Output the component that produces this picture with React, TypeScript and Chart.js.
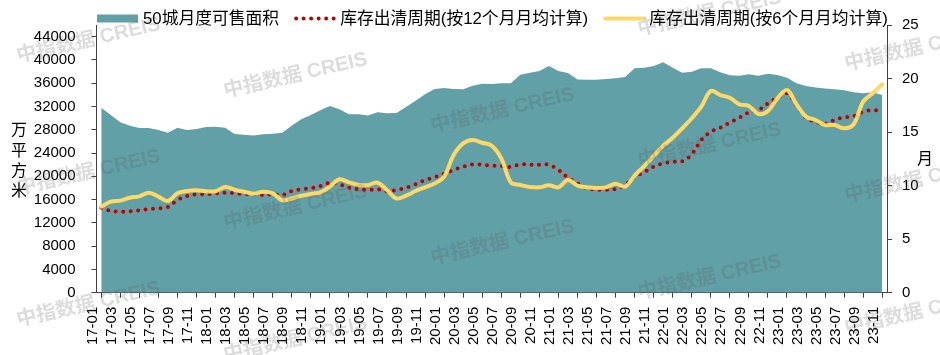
import React, { useEffect, useRef } from 'react';
import { Chart, registerables } from 'chart.js';

Chart.register(...registerables);

const CATEGORIES = [
  '17-01', '17-02', '17-03', '17-04', '17-05', '17-06', '17-07', '17-08', '17-09', '17-10', '17-11', '17-12',
  '18-01', '18-02', '18-03', '18-04', '18-05', '18-06', '18-07', '18-08', '18-09', '18-10', '18-11', '18-12',
  '19-01', '19-02', '19-03', '19-04', '19-05', '19-06', '19-07', '19-08', '19-09', '19-10', '19-11', '19-12',
  '20-01', '20-02', '20-03', '20-04', '20-05', '20-06', '20-07', '20-08', '20-09', '20-10', '20-11', '20-12',
  '21-01', '21-02', '21-03', '21-04', '21-05', '21-06', '21-07', '21-08', '21-09', '21-10', '21-11', '21-12',
  '22-01', '22-02', '22-03', '22-04', '22-05', '22-06', '22-07', '22-08', '22-09', '22-10', '22-11', '22-12',
  '23-01', '23-02', '23-03', '23-04', '23-05', '23-06', '23-07', '23-08', '23-09', '23-10', '23-11',
];

const AREA_LABEL = '50城月度可售面积';
const AREA_VALUES = [
  31780, 30530, 29270, 28690, 28300, 28300, 27950, 27490, 28350, 27950, 28120, 28470,
  28500, 28350, 27260, 27150, 27000, 27210, 27320, 27490, 28700, 29790, 30530, 31330,
  32080, 31510, 30650, 30650, 30470, 30990, 30820, 30900, 31900, 33000, 34080, 35000,
  35170, 35000, 34940, 35560, 35900, 35850, 36000, 36000, 37450, 37800, 38100, 38950,
  38100, 37750, 36650, 36600, 36600, 36710, 36830, 37060, 38550, 38660, 38950, 39580,
  38660, 37800, 37970, 38550, 38550, 37860, 37350, 37280, 37520, 37280, 37630, 37400,
  36940, 35970, 35510, 35280, 35110, 34940, 34770, 34430, 34260, 34430, 33970,
];

const CYCLE12_LABEL = '库存出清周期(按12个月月均计算)';
const CYCLE12_VALUES = [
  7.94, 7.63, 7.56, 7.6, 7.69, 7.82, 7.88, 8.0, 8.66, 9.03, 9.19, 9.2,
  9.28, 9.34, 9.28, 9.2, 9.19, 9.12, 9.19, 9.12, 9.5, 9.66, 9.75, 9.96,
  10.27, 10.12, 9.81, 9.66, 9.59, 9.66, 9.5, 9.59, 9.81, 10.12, 10.52, 10.8,
  11.11, 11.46, 11.77, 11.99, 11.95, 11.86, 11.83, 11.74, 11.99, 11.95, 11.95, 11.95,
  11.46, 10.74, 10.22, 9.75, 9.62, 9.62, 9.68, 10.06, 10.83, 11.24, 11.77, 12.08,
  12.23, 12.27, 12.92, 14.26, 15.04, 15.41, 15.9, 16.34, 16.85, 17.06, 17.69, 18.21,
  18.62, 17.53, 16.34, 15.97, 15.76, 16.13, 16.38, 16.5, 16.9, 17.06, 16.97,
];

const CYCLE6_LABEL = '库存出清周期(按6个月月均计算)';
const CYCLE6_VALUES = [
  8.03, 8.5, 8.6, 8.87, 9.0, 9.34, 8.97, 8.56, 9.28, 9.5, 9.56, 9.47,
  9.47, 9.87, 9.62, 9.43, 9.25, 9.43, 9.28, 8.63, 8.8, 9.06, 9.22, 9.37,
  9.9, 10.59, 10.31, 10.06, 10.06, 10.27, 9.59, 8.8, 9.06, 9.5, 9.84, 10.2,
  10.83, 12.86, 13.95, 14.26, 14.0, 13.73, 12.55, 10.31, 10.06, 9.87, 9.84, 10.03,
  9.84, 10.52, 10.0, 9.84, 9.78, 9.84, 10.18, 9.9, 10.93, 11.83, 12.77, 13.73,
  14.48, 15.35, 16.29, 17.37, 18.84, 18.46, 18.2, 17.59, 17.44, 16.69, 16.97, 18.15,
  18.93, 17.59, 16.44, 16.13, 15.66, 15.66, 15.35, 15.73, 17.84, 18.62, 19.46,
];

const LEFT_TICKS = [0, 4000, 8000, 12000, 16000, 20000, 24000, 28000, 32000, 36000, 40000, 44000];
const LEFT_MAX = 46000;
const RIGHT_TICKS = [0, 5, 10, 15, 20, 25];
const RIGHT_MAX = 25;

const LEFT_TITLE = ['万', '平', '方', '米'];
const RIGHT_TITLE = '月';
const WATERMARK = '中指数据 CREIS';

const FONT = "'Liberation Sans', 'Noto Sans CJK SC', sans-serif";
const AXIS_COLOR = '#404040';

const legendPlugin = {
  id: 'drawnLegend',
  afterDraw(chart: any) {
    const { ctx, chartArea } = chart;
    const y = 18.5;
    let x = chartArea.left + 0.5;
    ctx.save();
    ctx.font = `16.8px ${FONT}`;
    ctx.textBaseline = 'middle';
    ctx.textAlign = 'left';
    chart.data.datasets.forEach((ds: any, i: number) => {
      ctx.save();
      if (i === 0) {
        ctx.fillStyle = ds.backgroundColor;
        ctx.fillRect(x, y - 4, 41, 8);
      } else {
        ctx.strokeStyle = ds.borderColor;
        ctx.lineWidth = ds.borderWidth;
        ctx.lineCap = ds.borderCapStyle || 'butt';
        ctx.setLineDash(ds.borderDash || []);
        ctx.beginPath();
        ctx.moveTo(x + 2, y);
        ctx.lineTo(x + 40, y);
        ctx.stroke();
      }
      ctx.restore();
      ctx.fillStyle = '#000';
      ctx.fillText(ds.label, x + 46, y + 0.5);
      x += 46 + ctx.measureText(ds.label).width + 15;
    });
    ctx.restore();
  },
};

const titlePlugin = {
  id: 'axisTitles',
  afterDraw(chart: any) {
    const { ctx, chartArea } = chart;
    const mid = (chartArea.top + chartArea.bottom) / 2;
    ctx.save();
    ctx.font = `16px ${FONT}`;
    ctx.fillStyle = '#000';
    ctx.textAlign = 'center';
    ctx.textBaseline = 'middle';
    LEFT_TITLE.forEach((ch, k) => {
      ctx.fillText(ch, 19, mid + 2.5 + (k - 1.5) * 20.3);
    });
    ctx.fillText(RIGHT_TITLE, 925, mid + 1);
    ctx.restore();
  },
};

const watermarkPlugin = {
  id: 'watermark',
  afterDraw(chart: any) {
    const { ctx } = chart;
    ctx.save();
    ctx.font = `bold 20px ${FONT}`;
    ctx.fillStyle = 'rgba(80,80,80,0.2)';
    ctx.textAlign = 'left';
    ctx.textBaseline = 'middle';
    for (let c = 0; c < 5; c++) {
      for (let r = -3; r < 4; r++) {
        const x = 17 + 207 * c;
        const y = 57 + 35 * c + 132 * r;
        if (y < -30 || y > 390) continue;
        ctx.save();
        ctx.translate(x, y);
        ctx.rotate((-13 * Math.PI) / 180);
        ctx.fillText(WATERMARK, 0, 0);
        ctx.restore();
      }
    }
    ctx.restore();
  },
};

export default function App() {
  const canvasRef = useRef<HTMLCanvasElement | null>(null);

  useEffect(() => {
    const canvas = canvasRef.current;
    if (!canvas) return;
    const tickFont = { family: FONT, size: 15 };
    const chart = new Chart(canvas, {
      type: 'line',
      data: {
        labels: CATEGORIES,
        datasets: [
          {
            label: AREA_LABEL,
            data: AREA_VALUES,
            yAxisID: 'y',
            fill: 'origin',
            backgroundColor: '#62A0A8',
            borderColor: 'rgba(0,0,0,0)',
            borderWidth: 0,
            pointRadius: 0,
            tension: 0,
            order: 2,
          },
          {
            label: CYCLE12_LABEL,
            data: CYCLE12_VALUES,
            yAxisID: 'y1',
            fill: false,
            borderColor: '#C00000',
            backgroundColor: '#C00000',
            borderWidth: 4,
            borderDash: [0, 7.5],
            borderCapStyle: 'round',
            pointRadius: 0,
            tension: 0.35,
            order: 1,
          },
          {
            label: CYCLE6_LABEL,
            data: CYCLE6_VALUES,
            yAxisID: 'y1',
            fill: false,
            borderColor: '#FFD966',
            backgroundColor: '#FFD966',
            borderWidth: 4,
            borderCapStyle: 'round',
            pointRadius: 0,
            tension: 0.35,
            order: 0,
          },
        ],
      },
      options: {
        responsive: false,
        animation: false,
        devicePixelRatio: 1,
        layout: { padding: { left: 0, top: 25, right: 0, bottom: 0 } },
        plugins: {
          legend: { display: false },
          tooltip: { enabled: false },
        },
        scales: {
          x: {
            type: 'category',
            offset: true,
            grid: {
              display: true,
              drawOnChartArea: false,
              drawTicks: true,
              tickLength: 5,
              color: (ctx: any) => (ctx.index % 2 === 0 ? AXIS_COLOR : 'rgba(0,0,0,0)'),
            },
            border: { display: true, color: AXIS_COLOR, width: 1 },
            ticks: {
              autoSkip: false,
              maxRotation: 90,
              minRotation: 90,
              padding: 9,
              labelOffset: -8.5,
              color: '#000',
              font: tickFont,
              callback: (_v: any, i: number) => (i % 2 === 0 ? CATEGORIES[i] : ''),
            },
            afterFit: (s: any) => {
              s.height = 62.3;
            },
          },
          y: {
            type: 'linear',
            position: 'left',
            min: 0,
            max: LEFT_MAX,
            bounds: 'data',
            grid: { drawOnChartArea: false, drawTicks: true, tickLength: 5, color: AXIS_COLOR },
            border: { display: true, color: AXIS_COLOR, width: 1 },
            ticks: {
              padding: 16,
              color: '#000',
              font: tickFont,
              callback: (v: any) => String(v),
            },
            afterBuildTicks: (s: any) => {
              s.ticks = LEFT_TICKS.map((v) => ({ value: v }));
            },
            afterFit: (s: any) => {
              s.width = 96.5;
            },
          },
          y1: {
            type: 'linear',
            position: 'right',
            min: 0,
            max: RIGHT_MAX,
            bounds: 'data',
            grid: { drawOnChartArea: false, drawTicks: true, tickLength: 5, color: AXIS_COLOR },
            border: { display: true, color: AXIS_COLOR, width: 1 },
            ticks: {
              padding: 10,
              color: '#000',
              font: tickFont,
              callback: (v: any) => String(v),
            },
            afterBuildTicks: (s: any) => {
              s.ticks = RIGHT_TICKS.map((v) => ({ value: v }));
            },
            afterFit: (s: any) => {
              s.width = 53;
            },
          },
        },
      },
      plugins: [legendPlugin, titlePlugin, watermarkPlugin],
    } as any);
    return () => {
      chart.destroy();
    };
  }, []);

  return (
    <div style={{ position: 'fixed', left: 0, top: 0, width: 940, height: 355, background: '#fff' }}>
      <canvas ref={canvasRef} width={940} height={355} style={{ display: 'block', width: 940, height: 355 }} />
    </div>
  );
}
